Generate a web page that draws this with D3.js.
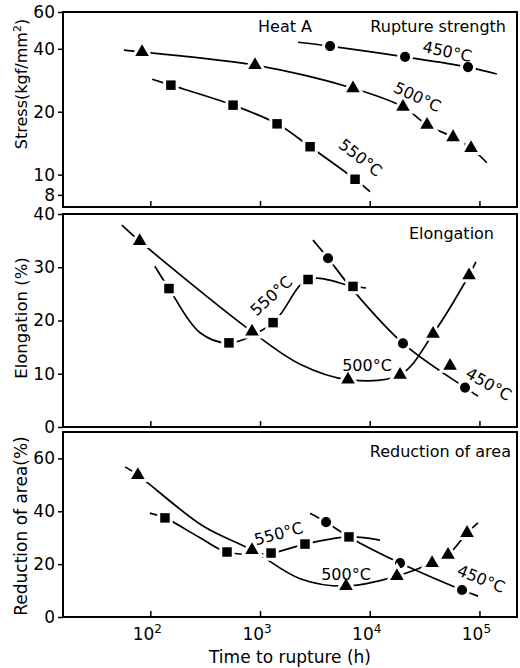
<!DOCTYPE html>
<html>
<head>
<meta charset="utf-8">
<script src="https://cdn.jsdelivr.net/npm/d3@7"></script>
<style>
  body { margin: 0; background: #fff; }
  text { font-family: "DejaVu Sans", sans-serif; fill: #000; }
</style>
</head>
<body>
<svg id="chart" width="520" height="668"></svg>
<script>
// ---- data (time in h) ----
const timeTicks = [1e2, 1e3, 1e4, 1e5];
const stressTicks = [8, 10, 20, 40, 60];
const elongTicks = [0, 10, 20, 30, 40];
const raTicks = [0, 20, 40, 60];

// rupture strength (kgf/mm2)
const stress450 = [[4350, 41.2], [21000, 36.6], [78700, 32.7]];
const stress500 = [[84, 38.6], [900, 33.4], [7040, 25.9], [20100, 21.1], [33300, 17.3], [57500, 15.1], [83800, 13.4]];
const stress550 = [[154, 26.8], [568, 21.5], [1430, 17.5], [2860, 13.6], [7350, 9.5]];
const stress450Curve = [[2220, 43.0], [4350, 41.2], [21000, 36.6], [78700, 32.7], [144000, 30.3]];
const stress500Curve = [[57.5, 39.4], [84, 38.6], [900, 33.4], [7040, 25.9], [20100, 21.1], [33300, 17.3], [57500, 15.1], [83800, 13.4], [117000, 11.4]];
const stress550Curve = [[104, 28.6], [154, 26.8], [568, 21.5], [1430, 17.5], [2860, 13.6], [7350, 9.5], [10060, 8.3]];

// elongation (%)
const elong450 = [[4170, 31.7], [20100, 15.7], [73900, 7.4]];
const elong500 = [[80, 34.9], [845, 17.9], [6340, 8.9], [18900, 9.8], [37800, 17.5], [54000, 11.5], [80400, 28.5]];
const elong550 = [[148, 26.0], [521, 15.8], [1315, 19.6], [2740, 27.7], [7040, 26.4]];
const elong450Curve = [[3040, 35.1], [4170, 31.7], [7040, 25.7], [20100, 15.7], [73900, 7.4], [97100, 5.8]];
const elong500Curve = [[55, 37.9], [80, 34.9], [845, 17.9], [2320, 11.8], [6340, 8.9], [18900, 9.8], [37800, 17.5], [80400, 28.5], [93000, 31.0]];
const elong550Curve = [[110, 30.2], [148, 26.0], [284, 17.7], [521, 15.8], [1315, 19.6], [2740, 27.7], [7040, 26.4], [9250, 26.1]];

// reduction of area (%)
const ra450 = [[4000, 35.9], [18900, 20.4], [69400, 10.2]];
const ra500 = [[77, 53.7], [845, 25.3], [6080, 11.7], [17700, 15.5], [37000, 20.4], [51700, 23.5], [77100, 31.8]];
const ra550 = [[136, 37.5], [500, 24.6], [1260, 24.2], [2570, 27.6], [6470, 30.3]];
const ra450Curve = [[2860, 39.3], [4000, 35.9], [6470, 30.3], [18900, 20.4], [69400, 10.2], [97100, 7.9]];
const ra500Curve = [[59, 56.8], [77, 53.7], [300, 34.5], [845, 25.3], [2320, 14.5], [6080, 11.7], [17700, 15.5], [37000, 20.4], [51700, 23.5], [77100, 31.8], [97100, 35.6]];
const ra550Curve = [[99, 39.3], [136, 37.5], [284, 30], [500, 24.6], [1260, 24.2], [2570, 27.6], [6470, 30.3], [12400, 29.1]];

const svg = d3.select("#chart");
const left = 63, right = 517;

const x = d3.scaleLog().domain([16, 2.2e5]).range([left, right]);

const panels = [
  {
    y: d3.scaleLog().domain([7, 60]).range([207, 12]),
    ticks: stressTicks,
    label: "Stress(kgf/mm", sup: "2", labelEnd: ")", labelY: 84, labelSize: 16,
    series: [
      { pts: stress450, curve: stress450Curve, sym: d3.symbolCircle, size: 80 },
      { pts: stress500, curve: stress500Curve, sym: d3.symbolTriangle, size: 80 },
      { pts: stress550, curve: stress550Curve, sym: d3.symbolSquare, size: 90 }
    ],
    notes: [
      { t: "Heat A", x: 258, y: 32, a: 0, anchor: "start" },
      { t: "Rupture strength", x: 506, y: 32, a: 0, anchor: "end" },
      { t: "450°C", x: 446, y: 57, a: 12, anchor: "middle" },
      { t: "500°C", x: 415, y: 102, a: 25, anchor: "middle" },
      { t: "550°C", x: 357, y: 162, a: 38, anchor: "middle" }
    ]
  },
  {
    y: d3.scaleLinear().domain([0, 40]).range([427, 214]),
    ticks: elongTicks,
    label: "Elongation (%)", labelY: 318, labelSize: 16.5,
    series: [
      { pts: elong450, curve: elong450Curve, sym: d3.symbolCircle, size: 80 },
      { pts: elong500, curve: elong500Curve, sym: d3.symbolTriangle, size: 80 },
      { pts: elong550, curve: elong550Curve, sym: d3.symbolSquare, size: 90 }
    ],
    notes: [
      { t: "Elongation", x: 494, y: 239, a: 0, anchor: "end" },
      { t: "550°C", x: 275, y: 300, a: -42, anchor: "middle" },
      { t: "500°C", x: 367, y: 371, a: 0, anchor: "middle" },
      { t: "450°C", x: 486, y: 389, a: 30, anchor: "middle" }
    ]
  },
  {
    y: d3.scaleLinear().domain([0, 70]).range([617, 432]),
    ticks: raTicks,
    label: "Reduction of area(%)", labelY: 526, labelSize: 17,
    series: [
      { pts: ra450, curve: ra450Curve, sym: d3.symbolCircle, size: 80 },
      { pts: ra500, curve: ra500Curve, sym: d3.symbolTriangle, size: 80 },
      { pts: ra550, curve: ra550Curve, sym: d3.symbolSquare, size: 90 }
    ],
    notes: [
      { t: "Reduction of area", x: 511, y: 457, a: 0, anchor: "end" },
      { t: "550°C", x: 280, y: 539, a: -15, anchor: "middle" },
      { t: "500°C", x: 346, y: 580, a: 0, anchor: "middle" },
      { t: "450°C", x: 479, y: 584, a: 22, anchor: "middle" }
    ]
  }
];

panels.forEach(p => {
  const [yBot, yTop] = p.y.range();

  // frame
  svg.append("rect")
    .attr("x", left).attr("y", yTop)
    .attr("width", right - left).attr("height", yBot - yTop)
    .attr("fill", "none").attr("stroke", "#000").attr("stroke-width", 2);

  // y axis: ticks outward, labels left
  const yAxis = d3.axisLeft(p.y).tickValues(p.ticks).tickSize(5).tickPadding(3)
    .tickFormat(d3.format("d"));
  const ga = svg.append("g").attr("transform", `translate(${left},0)`).call(yAxis);
  ga.select(".domain").remove();
  ga.selectAll("line").attr("stroke", "#000").attr("stroke-width", 1.5);
  ga.selectAll("text").style("font-size", "17px").style("font-family", "DejaVu Sans");

  // x ticks pointing inward at the bottom of each panel
  const xAxis = d3.axisTop(x).tickValues(timeTicks).tickSize(6).tickFormat("");
  const gx = svg.append("g").attr("transform", `translate(0,${yBot})`).call(xAxis);
  gx.select(".domain").remove();
  gx.selectAll("line").attr("stroke", "#000").attr("stroke-width", 1.5);

  // y label
  const lab = svg.append("text")
    .attr("transform", `translate(27,${p.labelY}) rotate(-90)`)
    .attr("text-anchor", "middle")
    .style("font-size", p.labelSize + "px")
    .text(p.label);
  if (p.sup) {
    lab.append("tspan").attr("dy", -6).style("font-size", "11px").text(p.sup);
    lab.append("tspan").attr("dy", 6).text(p.labelEnd);
  }

  const line = d3.line()
    .x(d => x(d[0])).y(d => p.y(d[1]))
    .curve(d3.curveCatmullRom.alpha(0.5));

  p.series.forEach(s => {
    svg.append("path")
      .attr("d", line(s.curve))
      .attr("fill", "none").attr("stroke", "#000").attr("stroke-width", 1.7);
  });

  p.series.forEach(s => {
    svg.append("g").selectAll("path")
      .data(s.pts)
      .join("path")
      .attr("transform", d => `translate(${x(d[0])},${p.y(d[1])})`)
      .attr("d", d3.symbol().type(s.sym).size(s.size))
      .attr("fill", "#000")
      .attr("stroke", "#fff").attr("stroke-width", 6)
      .style("paint-order", "stroke");
  });

  p.notes.forEach(n => {
    svg.append("text")
      .attr("transform", `translate(${n.x},${n.y}) rotate(${n.a})`)
      .attr("text-anchor", n.anchor)
      .style("font-size", "16px")
      .text(n.t);
  });
});

// x tick labels (powers of ten) under the bottom panel
const xl = svg.append("g").selectAll("text")
  .data(timeTicks)
  .join("text")
  .attr("x", d => x(d) - 3)
  .attr("y", 640)
  .attr("text-anchor", "middle")
  .style("font-size", "17px");
xl.append("tspan").text("10");
xl.append("tspan").attr("dy", -7).style("font-size", "12px").text(d => Math.round(Math.log10(d)));

svg.append("text")
  .attr("x", 290).attr("y", 663)
  .attr("text-anchor", "middle")
  .style("font-size", "17px")
  .text("Time to rupture (h)");
</script>
</body>
</html>
